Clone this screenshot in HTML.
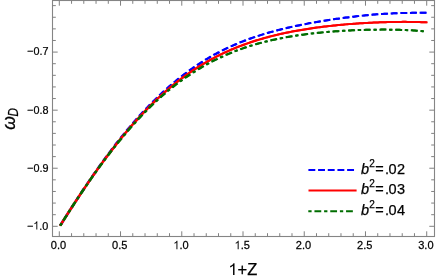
<!DOCTYPE html>
<html><head><meta charset="utf-8"><style>
html,body{margin:0;padding:0;background:#fff;}
svg{display:block;font-family:"Liberation Sans",sans-serif;}
</style></head><body>
<svg width="436" height="280" viewBox="0 0 436 280">
<rect width="436" height="280" fill="#fff"/>
<defs>
<path id="cb" d="M427.30,12.801 L425.76,12.796 L424.23,12.793 L422.69,12.792 L421.16,12.794 L419.62,12.798 L418.08,12.805 L416.55,12.815 L415.01,12.827 L413.47,12.842 L411.94,12.860 L410.40,12.881 L408.87,12.905 L407.33,12.932 L405.79,12.963 L404.26,12.996 L402.72,13.033 L401.18,13.074 L399.65,13.118 L398.11,13.167 L396.58,13.219 L395.04,13.276 L393.50,13.337 L391.97,13.403 L390.43,13.473 L388.90,13.549 L387.36,13.630 L385.82,13.716 L384.29,13.808 L382.75,13.905 L381.21,14.008 L379.68,14.117 L378.14,14.231 L376.61,14.350 L375.07,14.473 L373.53,14.602 L372.00,14.734 L370.46,14.872 L368.92,15.014 L367.39,15.161 L365.85,15.311 L364.32,15.465 L362.78,15.623 L361.24,15.785 L359.71,15.951 L358.17,16.120 L356.64,16.293 L355.10,16.470 L353.56,16.650 L352.03,16.834 L350.49,17.021 L348.95,17.211 L347.42,17.405 L345.88,17.602 L344.35,17.802 L342.81,18.006 L341.27,18.213 L339.74,18.423 L338.20,18.636 L336.66,18.852 L335.13,19.072 L333.59,19.296 L332.06,19.523 L330.52,19.753 L328.98,19.986 L327.45,20.223 L325.91,20.463 L324.38,20.707 L322.84,20.955 L321.30,21.206 L319.77,21.461 L318.23,21.719 L316.69,21.982 L315.16,22.248 L313.62,22.519 L312.09,22.793 L310.55,23.072 L309.01,23.354 L307.48,23.642 L305.94,23.934 L304.40,24.230 L302.87,24.531 L301.33,24.837 L299.80,25.147 L298.26,25.462 L296.72,25.783 L295.19,26.109 L293.65,26.440 L292.12,26.777 L290.58,27.118 L289.04,27.466 L287.51,27.820 L285.97,28.180 L284.43,28.546 L282.90,28.918 L281.36,29.295 L279.83,29.680 L278.29,30.072 L276.75,30.471 L275.22,30.876 L273.68,31.288 L272.14,31.707 L270.61,32.135 L269.07,32.570 L267.54,33.012 L266.00,33.463 L264.46,33.921 L262.93,34.387 L261.39,34.862 L259.86,35.347 L258.32,35.840 L256.78,36.343 L255.25,36.854 L253.71,37.374 L252.17,37.906 L250.64,38.448 L249.10,39.000 L247.57,39.561 L246.03,40.134 L244.49,40.716 L242.96,41.311 L241.42,41.918 L239.88,42.536 L238.35,43.165 L236.81,43.805 L235.28,44.457 L233.74,45.124 L232.20,45.803 L230.67,46.494 L229.13,47.198 L227.59,47.914 L226.06,48.643 L224.52,49.389 L222.99,50.147 L221.45,50.919 L219.91,51.705 L218.38,52.504 L216.84,53.318 L215.31,54.149 L213.77,54.994 L212.23,55.853 L210.70,56.728 L209.16,57.617 L207.62,58.521 L206.09,59.444 L204.55,60.383 L203.02,61.337 L201.48,62.306 L199.94,63.291 L198.41,64.293 L196.87,65.315 L195.33,66.354 L193.80,67.409 L192.26,68.481 L190.73,69.569 L189.19,70.674 L187.65,71.800 L186.12,72.942 L184.58,74.100 L183.05,75.274 L181.51,76.465 L179.97,77.674 L178.44,78.902 L176.90,80.146 L175.36,81.407 L173.83,82.684 L172.29,83.978 L170.76,85.290 L169.22,86.621 L167.68,87.969 L166.15,89.333 L164.61,90.714 L163.07,92.112 L161.54,93.528 L160.00,94.965 L158.47,96.418 L156.93,97.888 L155.39,99.376 L153.86,100.881 L152.32,102.405 L150.79,103.951 L149.25,105.514 L147.71,107.095 L146.18,108.695 L144.64,110.314 L143.10,111.953 L141.57,113.615 L140.03,115.297 L138.50,116.997 L136.96,118.715 L135.42,120.451 L133.89,122.207 L132.35,123.984 L130.81,125.778 L129.28,127.590 L127.74,129.419 L126.21,131.266 L124.67,133.132 L123.13,135.018 L121.60,136.921 L120.06,138.842 L118.53,140.779 L116.99,142.733 L115.45,144.706 L113.92,146.698 L112.38,148.707 L110.84,150.732 L109.31,152.773 L107.77,154.830 L106.24,156.905 L104.70,158.998 L103.16,161.107 L101.63,163.231 L100.09,165.370 L98.55,167.524 L97.02,169.695 L95.48,171.882 L93.95,174.084 L92.41,176.300 L90.87,178.530 L89.34,180.773 L87.80,183.032 L86.27,185.306 L84.73,187.592 L83.19,189.891 L81.66,192.203 L80.12,194.526 L78.58,196.864 L77.05,199.213 L75.51,201.574 L73.98,203.946 L72.44,206.329 L70.90,208.721 L69.37,211.126 L67.83,213.540 L66.29,215.964 L64.76,218.396 L63.22,220.837 L61.69,223.285 L60.15,225.743"/>
<path id="cr" d="M427.30,22.375 L425.76,22.305 L424.23,22.240 L422.69,22.182 L421.16,22.128 L419.62,22.080 L418.08,22.038 L416.55,22.001 L415.01,21.969 L413.47,21.942 L411.94,21.919 L410.40,21.901 L408.87,21.887 L407.33,21.878 L405.79,21.873 L404.26,21.872 L402.72,21.874 L401.18,21.881 L399.65,21.891 L398.11,21.905 L396.58,21.923 L395.04,21.945 L393.50,21.969 L391.97,21.997 L390.43,22.028 L388.90,22.063 L387.36,22.102 L385.82,22.143 L384.29,22.187 L382.75,22.235 L381.21,22.286 L379.68,22.340 L378.14,22.398 L376.61,22.458 L375.07,22.522 L373.53,22.588 L372.00,22.658 L370.46,22.732 L368.92,22.809 L367.39,22.889 L365.85,22.972 L364.32,23.058 L362.78,23.148 L361.24,23.242 L359.71,23.340 L358.17,23.441 L356.64,23.545 L355.10,23.653 L353.56,23.765 L352.03,23.881 L350.49,24.000 L348.95,24.122 L347.42,24.248 L345.88,24.378 L344.35,24.511 L342.81,24.648 L341.27,24.789 L339.74,24.933 L338.20,25.081 L336.66,25.233 L335.13,25.388 L333.59,25.548 L332.06,25.712 L330.52,25.879 L328.98,26.050 L327.45,26.225 L325.91,26.405 L324.38,26.589 L322.84,26.777 L321.30,26.969 L319.77,27.166 L318.23,27.367 L316.69,27.573 L315.16,27.784 L313.62,27.999 L312.09,28.219 L310.55,28.444 L309.01,28.673 L307.48,28.909 L305.94,29.149 L304.40,29.395 L302.87,29.646 L301.33,29.903 L299.80,30.165 L298.26,30.433 L296.72,30.707 L295.19,30.988 L293.65,31.274 L292.12,31.566 L290.58,31.864 L289.04,32.170 L287.51,32.482 L285.97,32.801 L284.43,33.126 L282.90,33.459 L281.36,33.798 L279.83,34.145 L278.29,34.500 L276.75,34.862 L275.22,35.232 L273.68,35.609 L272.14,35.993 L270.61,36.388 L269.07,36.790 L267.54,37.200 L266.00,37.619 L264.46,38.046 L262.93,38.482 L261.39,38.928 L259.86,39.383 L258.32,39.847 L256.78,40.320 L255.25,40.802 L253.71,41.294 L252.17,41.797 L250.64,42.310 L249.10,42.832 L247.57,43.365 L246.03,43.908 L244.49,44.461 L242.96,45.026 L241.42,45.603 L239.88,46.189 L238.35,46.787 L236.81,47.396 L235.28,48.015 L233.74,48.649 L232.20,49.295 L230.67,49.952 L229.13,50.621 L227.59,51.302 L226.06,51.995 L224.52,52.704 L222.99,53.426 L221.45,54.160 L219.91,54.908 L218.38,55.669 L216.84,56.443 L215.31,57.234 L213.77,58.038 L212.23,58.857 L210.70,59.690 L209.16,60.537 L207.62,61.399 L206.09,62.278 L204.55,63.173 L203.02,64.082 L201.48,65.007 L199.94,65.947 L198.41,66.902 L196.87,67.877 L195.33,68.867 L193.80,69.873 L192.26,70.896 L190.73,71.934 L189.19,72.989 L187.65,74.065 L186.12,75.157 L184.58,76.265 L183.05,77.391 L181.51,78.533 L179.97,79.693 L178.44,80.875 L176.90,82.073 L175.36,83.289 L173.83,84.522 L172.29,85.774 L170.76,87.044 L169.22,88.335 L167.68,89.644 L166.15,90.971 L164.61,92.316 L163.07,93.679 L161.54,95.061 L160.00,96.465 L158.47,97.887 L156.93,99.327 L155.39,100.785 L153.86,102.261 L152.32,103.757 L150.79,105.274 L149.25,106.810 L147.71,108.364 L146.18,109.936 L144.64,111.526 L143.10,113.136 L141.57,114.767 L140.03,116.417 L138.50,118.084 L136.96,119.770 L135.42,121.473 L133.89,123.197 L132.35,124.941 L130.81,126.703 L129.28,128.484 L127.74,130.281 L126.21,132.097 L124.67,133.933 L123.13,135.788 L121.60,137.661 L120.06,139.551 L118.53,141.459 L116.99,143.384 L115.45,145.329 L113.92,147.292 L112.38,149.272 L110.84,151.270 L109.31,153.283 L107.77,155.314 L106.24,157.363 L104.70,159.430 L103.16,161.513 L101.63,163.612 L100.09,165.727 L98.55,167.857 L97.02,170.005 L95.48,172.170 L93.95,174.350 L92.41,176.544 L90.87,178.754 L89.34,180.977 L87.80,183.217 L86.27,185.473 L84.73,187.741 L83.19,190.024 L81.66,192.319 L80.12,194.628 L78.58,196.951 L77.05,199.288 L75.51,201.637 L73.98,203.997 L72.44,206.369 L70.90,208.753 L69.37,211.149 L67.83,213.557 L66.29,215.975 L64.76,218.402 L63.22,220.840 L61.69,223.286 L60.15,225.743"/>
<path id="cg" d="M426.30,31.495 L425.76,31.440 L424.23,31.293 L422.69,31.153 L421.16,31.020 L419.62,30.894 L418.08,30.775 L416.55,30.664 L415.01,30.559 L413.47,30.461 L411.94,30.369 L410.40,30.282 L408.87,30.202 L407.33,30.128 L405.79,30.060 L404.26,29.997 L402.72,29.939 L401.18,29.886 L399.65,29.838 L398.11,29.795 L396.58,29.758 L395.04,29.725 L393.50,29.696 L391.97,29.671 L390.43,29.651 L388.90,29.636 L387.36,29.624 L385.82,29.617 L384.29,29.614 L382.75,29.614 L381.21,29.618 L379.68,29.626 L378.14,29.638 L376.61,29.654 L375.07,29.672 L373.53,29.695 L372.00,29.721 L370.46,29.750 L368.92,29.784 L367.39,29.820 L365.85,29.859 L364.32,29.902 L362.78,29.949 L361.24,29.999 L359.71,30.052 L358.17,30.108 L356.64,30.168 L355.10,30.231 L353.56,30.297 L352.03,30.367 L350.49,30.440 L348.95,30.517 L347.42,30.596 L345.88,30.679 L344.35,30.766 L342.81,30.857 L341.27,30.951 L339.74,31.048 L338.20,31.149 L336.66,31.254 L335.13,31.362 L333.59,31.475 L332.06,31.591 L330.52,31.711 L328.98,31.835 L327.45,31.963 L325.91,32.095 L324.38,32.232 L322.84,32.373 L321.30,32.518 L319.77,32.668 L318.23,32.821 L316.69,32.980 L315.16,33.144 L313.62,33.312 L312.09,33.486 L310.55,33.664 L309.01,33.846 L307.48,34.035 L305.94,34.229 L304.40,34.429 L302.87,34.634 L301.33,34.844 L299.80,35.060 L298.26,35.282 L296.72,35.510 L295.19,35.745 L293.65,35.985 L292.12,36.232 L290.58,36.485 L289.04,36.745 L287.51,37.013 L285.97,37.286 L284.43,37.567 L282.90,37.855 L281.36,38.149 L279.83,38.452 L278.29,38.763 L276.75,39.081 L275.22,39.407 L273.68,39.740 L272.14,40.081 L270.61,40.432 L269.07,40.791 L267.54,41.159 L266.00,41.535 L264.46,41.919 L262.93,42.312 L261.39,42.716 L259.86,43.129 L258.32,43.551 L256.78,43.983 L255.25,44.424 L253.71,44.875 L252.17,45.337 L250.64,45.810 L249.10,46.293 L247.57,46.787 L246.03,47.290 L244.49,47.805 L242.96,48.332 L241.42,48.871 L239.88,49.420 L238.35,49.981 L236.81,50.554 L235.28,51.137 L233.74,51.736 L232.20,52.346 L230.67,52.968 L229.13,53.603 L227.59,54.249 L226.06,54.908 L224.52,55.583 L222.99,56.271 L221.45,56.972 L219.91,57.685 L218.38,58.412 L216.84,59.153 L215.31,59.910 L213.77,60.681 L212.23,61.466 L210.70,62.264 L209.16,63.077 L207.62,63.905 L206.09,64.750 L204.55,65.609 L203.02,66.483 L201.48,67.372 L199.94,68.276 L198.41,69.196 L196.87,70.133 L195.33,71.086 L193.80,72.053 L192.26,73.036 L190.73,74.034 L189.19,75.048 L187.65,76.081 L186.12,77.131 L184.58,78.196 L183.05,79.278 L181.51,80.377 L179.97,81.493 L178.44,82.630 L176.90,83.784 L175.36,84.956 L173.83,86.146 L172.29,87.353 L170.76,88.581 L169.22,89.829 L167.68,91.097 L166.15,92.383 L164.61,93.688 L163.07,95.012 L161.54,96.357 L160.00,97.724 L158.47,99.110 L156.93,100.515 L155.39,101.940 L153.86,103.384 L152.32,104.849 L150.79,106.336 L149.25,107.842 L147.71,109.367 L146.18,110.910 L144.64,112.472 L143.10,114.054 L141.57,115.656 L140.03,117.276 L138.50,118.915 L136.96,120.571 L135.42,122.247 L133.89,123.942 L132.35,125.659 L130.81,127.394 L129.28,129.147 L127.74,130.918 L126.21,132.708 L124.67,134.518 L123.13,136.348 L121.60,138.197 L120.06,140.063 L118.53,141.947 L116.99,143.848 L115.45,145.770 L113.92,147.711 L112.38,149.669 L110.84,151.645 L109.31,153.638 L107.77,155.648 L106.24,157.677 L104.70,159.725 L103.16,161.789 L101.63,163.870 L100.09,165.967 L98.55,168.080 L97.02,170.212 L95.48,172.360 L93.95,174.525 L92.41,176.705 L90.87,178.899 L89.34,181.109 L87.80,183.337 L86.27,185.579 L84.73,187.836 L83.19,190.108 L81.66,192.393 L80.12,194.691 L78.58,197.006 L77.05,199.334 L75.51,201.675 L73.98,204.028 L72.44,206.394 L70.90,208.772 L69.37,211.163 L67.83,213.567 L66.29,215.981 L64.76,218.406 L63.22,220.841 L61.69,223.287 L60.15,225.743"/>
</defs>
<g fill="none" stroke-width="2.000" transform="scale(1,1.0)">
<g stroke="#0000ff" stroke-dasharray="6.4 3.26" stroke-dashoffset="8.71"><use href="#cb" x="-0.35"/><use href="#cb" x="0.35"/></g>
<g stroke="#ff0000"><use href="#cr" x="-0.35"/><use href="#cr" x="0.35"/></g>
<g stroke="#006d00" stroke-dasharray="2.9 3.2 6.4 3.2" stroke-dashoffset="13.0"><use href="#cg" x="-0.35"/><use href="#cg" x="0.35"/></g>
</g>
<rect x="52.5" y="0.5" width="382.0" height="236.0" fill="none" stroke="#858585" stroke-width="1.1"/>
<path d="M59.30,236.5 v-5.2 M59.30,0.5 v5.2 M71.55,236.5 v-3.3 M71.55,0.5 v3.3 M83.79,236.5 v-3.3 M83.79,0.5 v3.3 M96.04,236.5 v-3.3 M96.04,0.5 v3.3 M108.29,236.5 v-3.3 M108.29,0.5 v3.3 M120.53,236.5 v-5.2 M120.53,0.5 v5.2 M132.78,236.5 v-3.3 M132.78,0.5 v3.3 M145.03,236.5 v-3.3 M145.03,0.5 v3.3 M157.28,236.5 v-3.3 M157.28,0.5 v3.3 M169.52,236.5 v-3.3 M169.52,0.5 v3.3 M181.77,236.5 v-5.2 M181.77,0.5 v5.2 M194.02,236.5 v-3.3 M194.02,0.5 v3.3 M206.26,236.5 v-3.3 M206.26,0.5 v3.3 M218.51,236.5 v-3.3 M218.51,0.5 v3.3 M230.76,236.5 v-3.3 M230.76,0.5 v3.3 M243.00,236.5 v-5.2 M243.00,0.5 v5.2 M255.25,236.5 v-3.3 M255.25,0.5 v3.3 M267.50,236.5 v-3.3 M267.50,0.5 v3.3 M279.75,236.5 v-3.3 M279.75,0.5 v3.3 M291.99,236.5 v-3.3 M291.99,0.5 v3.3 M304.24,236.5 v-5.2 M304.24,0.5 v5.2 M316.49,236.5 v-3.3 M316.49,0.5 v3.3 M328.73,236.5 v-3.3 M328.73,0.5 v3.3 M340.98,236.5 v-3.3 M340.98,0.5 v3.3 M353.23,236.5 v-3.3 M353.23,0.5 v3.3 M365.48,236.5 v-5.2 M365.48,0.5 v5.2 M377.72,236.5 v-3.3 M377.72,0.5 v3.3 M389.97,236.5 v-3.3 M389.97,0.5 v3.3 M402.22,236.5 v-3.3 M402.22,0.5 v3.3 M414.46,236.5 v-3.3 M414.46,0.5 v3.3 M426.71,236.5 v-5.2 M426.71,0.5 v5.2 M52.5,226.30 h5.2 M434.5,226.30 h-5.2 M52.5,214.69 h3.3 M434.5,214.69 h-3.3 M52.5,203.07 h3.3 M434.5,203.07 h-3.3 M52.5,191.46 h3.3 M434.5,191.46 h-3.3 M52.5,179.84 h3.3 M434.5,179.84 h-3.3 M52.5,168.23 h5.2 M434.5,168.23 h-5.2 M52.5,156.62 h3.3 M434.5,156.62 h-3.3 M52.5,145.00 h3.3 M434.5,145.00 h-3.3 M52.5,133.39 h3.3 M434.5,133.39 h-3.3 M52.5,121.77 h3.3 M434.5,121.77 h-3.3 M52.5,110.16 h5.2 M434.5,110.16 h-5.2 M52.5,98.55 h3.3 M434.5,98.55 h-3.3 M52.5,86.93 h3.3 M434.5,86.93 h-3.3 M52.5,75.32 h3.3 M434.5,75.32 h-3.3 M52.5,63.70 h3.3 M434.5,63.70 h-3.3 M52.5,52.09 h5.2 M434.5,52.09 h-5.2 M52.5,40.48 h3.3 M434.5,40.48 h-3.3 M52.5,28.86 h3.3 M434.5,28.86 h-3.3 M52.5,17.25 h3.3 M434.5,17.25 h-3.3 M52.5,5.63 h3.3 M434.5,5.63 h-3.3" stroke="#808080" stroke-width="1" fill="none"/>
<defs><filter id="nf" x="0" y="0" width="436" height="280" filterUnits="userSpaceOnUse"><feOffset dx="0" dy="0"/></filter></defs>
<g filter="url(#nf)" fill="#000" stroke="#000" stroke-width="0.25">
<g font-size="11.7"><text transform="translate(50.82,249.15) scale(0.945,1)" font-size="11.7">0.0</text><text transform="translate(112.05,249.15) scale(0.945,1)" font-size="11.7">0.5</text><path transform="translate(173.29,249.15) scale(11.056,-11.7)" d="M0.373,0 L0.285,0 L0.285,0.560 Q0.210,0.492 0.109,0.453 L0.109,0.538 Q0.255,0.607 0.316,0.719 L0.373,0.719 Z" stroke="none"/><text transform="translate(179.43,249.15) scale(0.945,1)" font-size="11.7">.0</text><path transform="translate(234.52,249.15) scale(11.056,-11.7)" d="M0.373,0 L0.285,0 L0.285,0.560 Q0.210,0.492 0.109,0.453 L0.109,0.538 Q0.255,0.607 0.316,0.719 L0.373,0.719 Z" stroke="none"/><text transform="translate(240.67,249.15) scale(0.945,1)" font-size="11.7">.5</text><text transform="translate(295.76,249.15) scale(0.945,1)" font-size="11.7">2.0</text><text transform="translate(356.99,249.15) scale(0.945,1)" font-size="11.7">2.5</text><text transform="translate(418.23,249.15) scale(0.945,1)" font-size="11.7">3.0</text><text transform="translate(27.30,229.6) scale(0.925,1)" font-size="11.7">−</text><path transform="translate(33.26,229.6) scale(10.822,-11.7)" d="M0.373,0 L0.285,0 L0.285,0.560 Q0.210,0.492 0.109,0.453 L0.109,0.538 Q0.255,0.607 0.316,0.719 L0.373,0.719 Z" stroke="none"/><text transform="translate(39.27,229.6) scale(0.925,1)" font-size="11.7">.0</text><text transform="translate(27.30,171.5) scale(0.925,1)" font-size="11.7">−0.9</text><text transform="translate(27.30,113.5) scale(0.925,1)" font-size="11.7">−0.8</text><text transform="translate(27.30,55.4) scale(0.925,1)" font-size="11.7">−0.7</text></g>
<path transform="translate(228.35,275) scale(16.500,-16.5)" d="M0.373,0 L0.285,0 L0.285,0.560 Q0.210,0.492 0.109,0.453 L0.109,0.538 Q0.255,0.607 0.316,0.719 L0.373,0.719 Z" stroke="none"/><text transform="translate(237.53,275) scale(1.0,1)" font-size="16.5">+Z</text>
<g transform="translate(15.2,129.8) rotate(-90)" font-style="italic"><text x="0" y="0" font-size="17.5">ω</text><text transform="translate(13.3,2.3) scale(0.84,1)" font-size="13.9">D</text></g>
<text y="173.5" font-size="14.5"><tspan x="361" font-style="italic">b</tspan><tspan x="369.2" y="166.7" font-size="10">2</tspan><tspan y="173.5" x="375.2 385.0 388.5 397.0">=.02</tspan></text><text y="194.1" font-size="14.5"><tspan x="361" font-style="italic">b</tspan><tspan x="369.2" y="187.29999999999998" font-size="10">2</tspan><tspan y="194.1" x="375.2 385.0 388.5 397.0">=.03</tspan></text><text y="214.7" font-size="14.5"><tspan x="361" font-style="italic">b</tspan><tspan x="369.2" y="207.89999999999998" font-size="10">2</tspan><tspan y="214.7" x="375.2 385.0 388.5 397.0">=.04</tspan></text>
</g>
<g fill="none" stroke-width="2">
<path d="M308.4,169.9 H354.3" stroke="#0000ff" stroke-dasharray="6.9 2.78"/>
<path d="M308.5,190.6 H356.6" stroke="#ff0000"/>
<path d="M308.3,211.2 H353.2" stroke="#006d00" stroke-dasharray="3.3 2.85 6.8 2.85"/>
</g>
</svg>
</body></html>
